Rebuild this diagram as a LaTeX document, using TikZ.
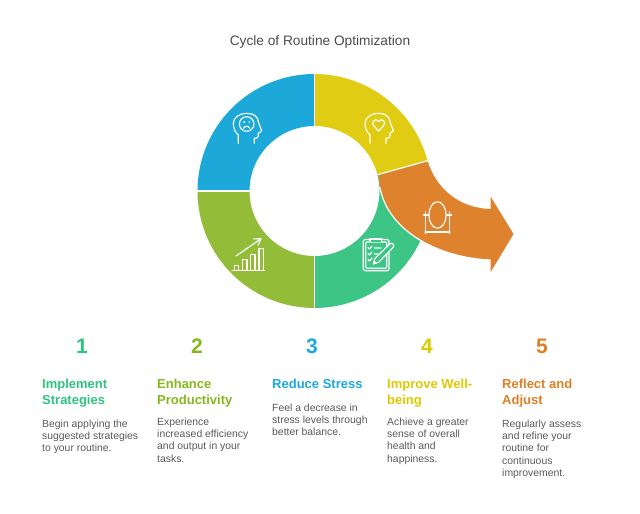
\documentclass[tikz,border=0pt]{standalone}
\usepackage{fontspec}
\setmainfont{Liberation Sans}
\definecolor{cblue}{HTML}{1CA9D9}
\definecolor{cyellow}{HTML}{E0CD13}
\definecolor{cgreen}{HTML}{3CC584}
\definecolor{clime}{HTML}{93BD38}
\definecolor{corange}{HTML}{DE822E}
\definecolor{tgreen}{HTML}{2DC480}
\definecolor{tlime}{HTML}{86B81C}
\definecolor{tblue}{HTML}{1BA9DE}
\definecolor{tyellow}{HTML}{E0C800}
\definecolor{torange}{HTML}{E07E25}
\definecolor{tbody}{HTML}{5A5A5A}
\newcommand{\fl}{\rule{0pt}{10pt}}
\newcommand{\sector}[3]{\fill[#1] (#2:117) arc[start angle=#2,end angle=#3,radius=117] -- (#3:65) arc[start angle=#3,end angle=#2,radius=65] -- cycle;}
\newcommand{\headicon}[2]{\draw[iconline,shift={(#1,#2)}] (-8.4,19.3) -- (-8.4,11) .. controls (-11.5,8.5) and (-13.4,4) .. (-13.4,-0.7) .. controls (-13.4,-6.5) and (-7,-10.7) .. (0,-10.7) .. controls (7,-10.7) and (11.6,-7) .. (11.6,-2.3) -- (15,7) -- (11.6,9.3) -- (11.6,12) .. controls (11.6,14) and (9.5,14.3) .. (7.6,14.3) -- (7.6,19.3);}
\tikzset{
  x=1pt,y=-1pt,
  iconline/.style={draw=white,line width=1.15pt,line join=round,line cap=round},
  numlabel/.style={anchor=center,inner sep=0pt,font=\fontsize{21}{21}\selectfont\bfseries},
  headlabel/.style={anchor=north west,inner sep=0pt,align=left,font=\fontsize{13}{16.7}\selectfont\bfseries},
  bodylabel/.style={anchor=north west,inner sep=0pt,align=left,text=tbody,font=\fontsize{10.4}{12.3}\selectfont},
}
\begin{document}
\begin{tikzpicture}
\useasboundingbox (0,0) rectangle (640,514);
\node[anchor=center,inner sep=0pt,text=black!70,font=\fontsize{13.7}{15}\selectfont] (title) at (320,41.5) {Cycle of Routine Optimization};
% ring
\begin{scope}[y=1pt,shift={(314.5pt,-191pt)}]
\sector{cblue}{90}{180}
\sector{clime}{180}{270}
\sector{cgreen}{270}{375}
\sector{cyellow}{15}{90}
\draw[white,line width=1.3pt] (90:64) -- (90:118) (180:64) -- (180:118) (270:64) -- (270:118);
\end{scope}
% orange arrow
\fill[corange] (378.3,174.5) -- (427.5,160.8) .. controls (436,188) and (458,208) .. (490.7,209) -- (490.7,196.7) -- (513.5,234) -- (490.7,272) -- (490.7,260) .. controls (440,258) and (388,232) .. (379.8,187) .. controls (379.5,183) and (379,178) .. (378.3,174.5) -- cycle;
\draw[white,line width=1.2pt] (490.7,260) .. controls (440,258) and (388,232) .. (379.8,187);
\draw[white,line width=1.2pt] (377.6,174.7) -- (428.2,160.6);
% blue head icon
\headicon{246.7}{124}
\draw[iconline] (246.7,124) circle[radius=7.3];
\fill[white] (244.1,122) circle[radius=0.9] (249.3,122) circle[radius=0.9];
\draw[iconline] (243.6,128.2) .. controls (245,125.6) and (248.4,125.6) .. (249.8,128.2);
% yellow head icon
\headicon{378.4}{124}
\draw[iconline] (378.6,131) -- (373.6,125.6) .. controls (371.6,122.8) and (373.2,119.6) .. (375.8,119.6) .. controls (377,119.6) and (378,120.2) .. (378.6,121.4) .. controls (379.2,120.2) and (380.2,119.6) .. (381.4,119.6) .. controls (384,119.6) and (385.6,122.8) .. (383.6,125.6) -- cycle;
% mirror icon
\draw[iconline] (437.5,215) ellipse[x radius=8.6,y radius=13.2];
\draw[iconline] (425.7,212) -- (425.7,233.5) (449.3,212) -- (449.3,233.5) (425,232) -- (450,232) (423.4,215) -- (428.5,215) (446.5,215) -- (451.7,215);
% chart icon
\draw[iconline] (232,270.3) -- (264.5,270.3);
\draw[iconline] (234.5,270.3) rectangle (238.5,265.3) (242.5,270.3) rectangle (247,259.3) (250.7,270.3) rectangle (255,254.7) (259,270.3) rectangle (263.3,248.7);
\draw[iconline] (236,256) -- (261,238.7) (253.5,238.9) -- (261,238.7) -- (258,245.3);
% clipboard icon
\draw[iconline,rounded corners=1.5pt] (363.3,239.5) rectangle (389,270.7);
\draw[iconline,rounded corners=1pt] (365.8,242) rectangle (386.7,268.2);
\draw[iconline,fill=cgreen] (370,242) -- (370,239) -- (381.5,239) -- (381.5,242);
\draw[iconline] (368,247.5) -- (369.5,249) -- (372,246) (368,253.5) -- (369.5,255) -- (372,252) (374.5,248) -- (381,248) (374.5,254) -- (378,254) (368,259.5) -- (369.5,261) -- (372,258);
\draw[iconline,fill=cgreen] (373.3,264) -- (374.8,258.5) -- (390,243.8) .. controls (392,242.2) and (395,245) .. (393.3,247.2) -- (378.6,262.3) -- cycle;
\fill[white] (373.3,264) -- (374.2,260.5) -- (376.8,263) -- cycle;
% columns
\node[numlabel,text=tgreen] (n1) at (82,346) {1};
\node[numlabel,text=tlime] (n2) at (197,346) {2};
\node[numlabel,text=tblue] (n3) at (312,346) {3};
\node[numlabel,text=tyellow] (n4) at (427,346) {4};
\node[numlabel,text=torange] (n5) at (542,346) {5};
\node[headlabel,text=tgreen] (h1) at (42,378) {\fl Implement\\Strategies};
\node[headlabel,text=tlime] (h2) at (157,378) {\fl Enhance\\Productivity};
\node[headlabel,text=tblue] (h3) at (272,378) {\fl Reduce Stress};
\node[headlabel,text=tyellow] (h4) at (387,378) {\fl Improve Well-\\being};
\node[headlabel,text=torange] (h5) at (502,378) {\fl Reflect and\\Adjust};
\node[bodylabel] (b1) at (42,417) {\fl Begin applying the\\suggested strategies\\to your routine.};
\node[bodylabel] (b2) at (157,415) {\fl Experience\\increased efficiency\\and output in your\\tasks.};
\node[bodylabel] (b3) at (272,401) {\fl Feel a decrease in\\stress levels through\\better balance.};
\node[bodylabel] (b4) at (387,415) {\fl Achieve a greater\\sense of overall\\health and\\happiness.};
\node[bodylabel] (b5) at (502,417) {\fl Regularly assess\\and refine your\\routine for\\continuous\\improvement.};
\end{tikzpicture}
\end{document}
